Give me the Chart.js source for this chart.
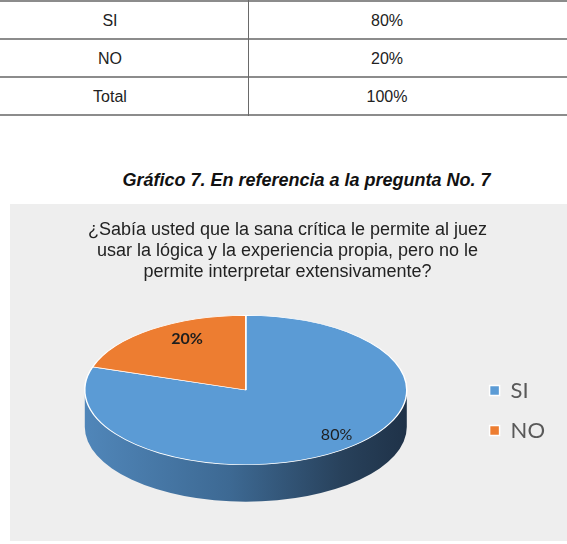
<!DOCTYPE html>
<html>
<head>
<meta charset="utf-8">
<script src="https://cdn.jsdelivr.net/npm/chart.js@4/dist/chart.umd.min.js"></script>
<style>
  body { margin: 0; background: #fff; width: 567px; height: 544px; overflow: hidden; position: relative; font-family: "Liberation Sans", Arial, sans-serif; }
  .hline { position: absolute; left: 0; width: 567px; height: 2px; background: #8c8c8c; }
  .vline { position: absolute; left: 248px; top: 0; width: 1px; height: 116px; background: #6a6a6a; }
  .cell { position: absolute; font-size: 16px; color: #222; text-align: center; width: 200px; line-height: 38px; }
  #caption { position: absolute; left: 0; width: 613px; top: 170px; text-align: center; font-weight: bold; font-style: italic; font-size: 18px; color: #111; }
  #box { position: absolute; left: 10px; top: 204px; width: 557px; height: 337px; background: #eeeeee; }
</style>
</head>
<body>
<div class="hline" style="top:0px"></div>
<div class="hline" style="top:38px"></div>
<div class="hline" style="top:76px"></div>
<div class="hline" style="top:114px"></div>
<div class="vline"></div>
<div id="tabla"></div>
<div id="caption">Gráfico 7. En referencia a la pregunta No. 7</div>
<div id="box"><canvas id="grafico" width="557" height="337"></canvas></div>
<script>
const categorias = ["SI", "NO"];
const valores = [80, 20];
const tituloLineas = [
    "¿Sabía usted que la sana crítica le permite al juez",
    "usar la lógica y la experiencia propia, pero no le",
    "permite interpretar extensivamente?"
];
const filasTabla = [["SI", "80%"], ["NO", "20%"], ["Total", "100%"]];

const colores = ["#5b9bd5", "#ed7d31"];
const APLASTE = 0.464;   // relacion alto/ancho de la elipse
const PROFUNDIDAD = 37;  // grosor del pastel en px

// tabla de arriba
const tabla = document.getElementById("tabla");
filasTabla.forEach((fila, i) => {
    const a = document.createElement("div");
    a.className = "cell";
    a.style.left = "10px";
    a.style.top = (2 + i * 38) + "px";
    a.textContent = fila[0];
    const b = document.createElement("div");
    b.className = "cell";
    b.style.left = "287px";
    b.style.top = (2 + i * 38) + "px";
    b.textContent = fila[1];
    tabla.appendChild(a);
    tabla.appendChild(b);
});

function sombraLado(ctx, x0, x1, base) {
    const g = ctx.createLinearGradient(x0, 0, x1, 0);
    if (base === colores[0]) {
        g.addColorStop(0, "#5086b9");
        g.addColorStop(0.45, "#3d6993");
        g.addColorStop(0.8, "#28415b");
        g.addColorStop(1, "#1f3248");
    } else {
        g.addColorStop(0, "#c0652a");
        g.addColorStop(1, "#7a3d14");
    }
    return g;
}

const pastel3d = {
    id: "pastel3d",
    beforeDatasetsDraw(chart) {
        const ctx = chart.ctx;
        const arcs = chart.getDatasetMeta(0).data;
        if (!arcs.length) return;
        const cx = arcs[0].x, cy = arcs[0].y;
        ctx.save();
        ctx.translate(cx, cy);
        ctx.scale(1, APLASTE);
        ctx.translate(-cx, -cy);
        const d = PROFUNDIDAD / APLASTE;
        arcs.forEach((arc, i) => {
            const r = arc.outerRadius;
            let s = arc.startAngle, e = arc.endAngle;
            // normalizar a 0..2PI
            const TAU = Math.PI * 2;
            while (s < 0) { s += TAU; e += TAU; }
            const tramos = [[s, e], [s - TAU, e - TAU], [s + TAU, e + TAU]];
            tramos.forEach(([a0, a1]) => {
                const ini = Math.max(a0, 0), fin = Math.min(a1, Math.PI);
                if (fin <= ini) return;
                ctx.beginPath();
                ctx.arc(cx, cy + d, r, ini, fin);
                ctx.arc(cx, cy, r, fin, ini, true);
                ctx.closePath();
                ctx.fillStyle = sombraLado(ctx, cx - r, cx + r, colores[i]);
                ctx.fill();
            });
        });
    },
    afterDatasetsDraw(chart) {
        const ctx = chart.ctx;
        ctx.restore();
        const arcs = chart.getDatasetMeta(0).data;
        ctx.save();
        ctx.textAlign = "center";
        ctx.textBaseline = "middle";
        ctx.fillStyle = "#1e1e1e";
        arcs.forEach((arc, i) => {
            const mid = (arc.startAngle + arc.endAngle) / 2;
            const r = arc.outerRadius * 0.79;
            // pequeño corrimiento por la perspectiva de Excel
            const x = arc.x + Math.cos(mid) * r + 16;
            const y = arc.y + Math.sin(mid) * r * APLASTE - 3;
            ctx.font = (i === 1 ? "bold " : "") + "16px Lato";
            ctx.fillText(valores[i] + "%", x, y);
        });
        ctx.restore();
    }
};

new Chart(document.getElementById("grafico"), {
    type: "pie",
    data: {
        labels: categorias,
        datasets: [{
            data: valores,
            backgroundColor: colores,
            borderColor: "#ffffff",
            borderWidth: 1.5,
            clip: false
        }]
    },
    options: {
        responsive: false,
        animation: false,
        radius: 161,
        layout: { padding: { left: 10, right: 12, bottom: 52 } },
        plugins: {
            tooltip: { enabled: false },
            title: {
                display: true,
                text: tituloLineas,
                color: "#222222",
                font: { family: "Liberation Sans", size: 18, weight: "normal", lineHeight: 1.167 },
                padding: { top: 16, bottom: 8 }
            },
            legend: {
                position: "right",
                title: { display: true, text: " ", font: { size: 10, lineHeight: 1 }, padding: { top: 118, bottom: 0 } },
                labels: {
                    boxWidth: 10,
                    boxHeight: 10,
                    padding: 18,
                    color: "#595959",
                    font: { family: "Lato", size: 22 }
                }
            }
        }
    },
    plugins: [pastel3d]
});
</script>
</body>
</html>
